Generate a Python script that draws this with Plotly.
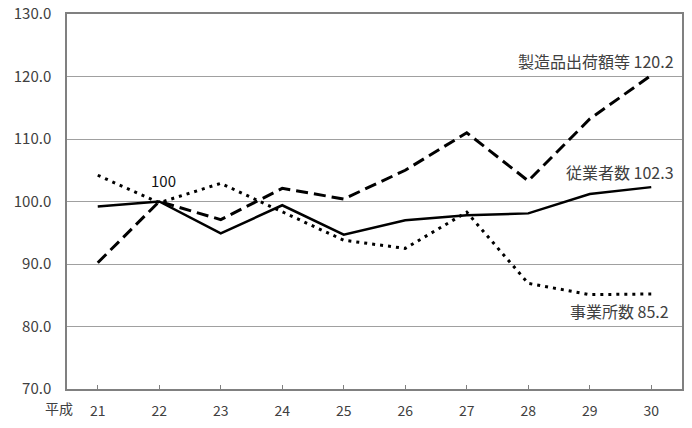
import plotly.graph_objects as go

years = ["21", "22", "23", "24", "25", "26", "27", "28", "29", "30"]
shipments = [90.2, 100.0, 97.1, 102.1, 100.4, 105.0, 111.0, 103.3, 113.2, 120.2]
employees = [99.2, 100.0, 94.9, 99.4, 94.7, 97.0, 97.8, 98.1, 101.2, 102.3]
establishments = [104.2, 99.8, 102.9, 98.3, 93.8, 92.5, 98.3, 86.9, 85.1, 85.2]
y_ticks = [70, 80, 90, 100, 110, 120, 130]

FONT = "Noto Sans CJK JP"
TXT = "#404040"

fig = go.Figure()
fig.add_trace(go.Scatter(x=years, y=establishments, mode="lines", name="事業所数",
                         line=dict(color="black", width=3, dash="3px,5px")))
fig.add_trace(go.Scatter(x=years, y=employees, mode="lines", name="従業者数",
                         line=dict(color="black", width=2.5)))
fig.add_trace(go.Scatter(x=years, y=shipments, mode="lines", name="製造品出荷額等",
                         line=dict(color="black", width=3, dash="12px,6px")))

last = len(years) - 1
fig.add_annotation(x=1, y=100, text="100", showarrow=False, xanchor="center",
                   yanchor="middle", xshift=4, yshift=21, font=dict(size=15, color="#111"))
fig.add_annotation(x=last, y=shipments[-1], text="製造品出荷額等 120.2", showarrow=False,
                   xanchor="right", yanchor="middle", xshift=25, yshift=14,
                   font=dict(size=16, color=TXT))
fig.add_annotation(x=last, y=employees[-1], text="従業者数 102.3", showarrow=False,
                   xanchor="right", yanchor="middle", xshift=25, yshift=15,
                   font=dict(size=16, color=TXT))
fig.add_annotation(x=last, y=establishments[-1], text="事業所数 85.2", showarrow=False,
                   xanchor="right", yanchor="middle", xshift=20, yshift=-17,
                   font=dict(size=16, color=TXT))
fig.add_annotation(x=0, xref="paper", y=0, yref="paper", text="平成", showarrow=False,
                   xanchor="right", yanchor="middle", xshift=8, yshift=-19,
                   font=dict(size=14, color=TXT))

fig.update_layout(
    width=692, height=428,
    margin=dict(l=67, r=10, t=14, b=39, autoexpand=False),
    paper_bgcolor="white", plot_bgcolor="white",
    showlegend=False,
    font=dict(family=FONT, size=14, color=TXT),
    xaxis=dict(type="category", range=[-0.5, 9.5], showgrid=False, automargin=False,
               showline=True, linecolor="#808080", linewidth=1.5, mirror=True,
               ticks="inside", ticklen=4, tickcolor="#808080", ticklabelstandoff=8,
               tickfont=dict(size=14, color=TXT), fixedrange=True),
    yaxis=dict(range=[70, 130], tickvals=y_ticks, automargin=False,
               ticktext=[f"{v:.1f}" for v in y_ticks],
               showgrid=True, gridcolor="#a0a0a0", gridwidth=1,
               showline=True, linecolor="#808080", linewidth=1.5, mirror=True,
               ticks="", ticklabelstandoff=11,
               tickfont=dict(size=15, color=TXT), zeroline=False, fixedrange=True),
)

fig.write_html("out.html", config={"displayModeBar": False},
               post_script="document.body.style.margin='0';document.body.style.overflow='hidden';")
